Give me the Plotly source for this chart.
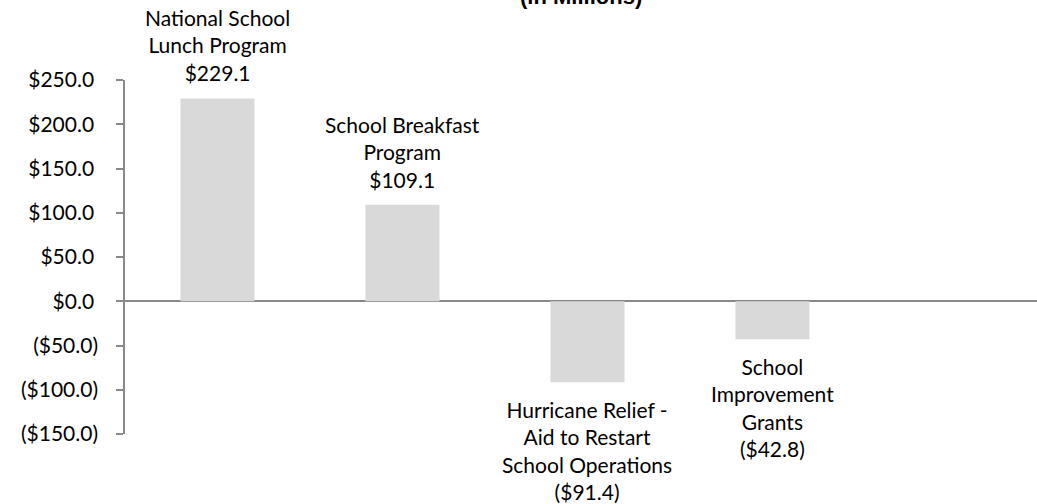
import plotly.graph_objects as go

# Program funding changes, in millions of dollars
programs = [
    "National School<br>Lunch Program",
    "School Breakfast<br>Program",
    "Hurricane Relief -<br>Aid to Restart<br>School Operations",
    "School<br>Improvement<br>Grants",
]
amounts = [229.1, 109.1, -91.4, -42.8]
tick_vals = [250, 200, 150, 100, 50, 0, -50, -100, -150]

FONT = "Lato"
GREY_AXIS = "#898989"
BAR_GREY = "#D9D9D9"


def money(v):
    s = f"${abs(v):,.1f}"
    return f"({s})" if v < 0 else s


def tick_money(v):
    # positive values keep a trailing pad the width of ")" so digits align
    return money(v) if v < 0 else money(v) + "\u2009\u200a"


cats = [f"c{i}" for i in range(len(programs))]

fig = go.Figure(
    go.Bar(
        x=cats,
        y=amounts,
        marker=dict(color=BAR_GREY, line=dict(width=0)),
        hoverinfo="skip",
    )
)

annotations = []
for c, name, v in zip(cats, programs, amounts):
    annotations.append(
        dict(
            x=c,
            y=v,
            xref="x",
            yref="y",
            text=f"{name}<br>{money(v)}",
            showarrow=False,
            yanchor="bottom" if v >= 0 else "top",
            yshift=11 if v >= 0 else -13,
            font=dict(family=FONT, size=21, color="#000000"),
            align="center",
        )
    )

# Title line sitting above the drawing area
annotations.append(
    dict(
        x=0.5,
        y=1,
        xref="paper",
        yref="paper",
        text="<b>(in Millions)</b>",
        showarrow=False,
        yanchor="middle",
        yshift=84,
        font=dict(family="Liberation Sans", size=22, color="#000000"),
    )
)

fig.update_layout(
    width=1037,
    height=504,
    margin=dict(l=125, r=0, t=80, b=70),
    paper_bgcolor="white",
    plot_bgcolor="white",
    bargap=0.6,
    showlegend=False,
    annotations=annotations,
    font=dict(family=FONT, size=21, color="#000000"),
)

fig.update_xaxes(
    type="category",
    range=[-0.5, 4.43],
    showticklabels=False,
    ticks="",
    showline=False,
    showgrid=False,
    zeroline=False,
)

fig.update_yaxes(
    range=[-150, 250],
    tickvals=tick_vals,
    ticktext=[tick_money(v) for v in tick_vals],
    ticks="outside",
    ticklen=7,
    tickwidth=1.5,
    tickcolor=GREY_AXIS,
    showline=True,
    linecolor=GREY_AXIS,
    linewidth=1.5,
    showgrid=False,
    zeroline=True,
    zerolinecolor=GREY_AXIS,
    zerolinewidth=1.5,
    ticklabelstandoff=14,
    tickfont=dict(family=FONT, size=21, color="#000000"),
)

fig.write_html("out.html")
